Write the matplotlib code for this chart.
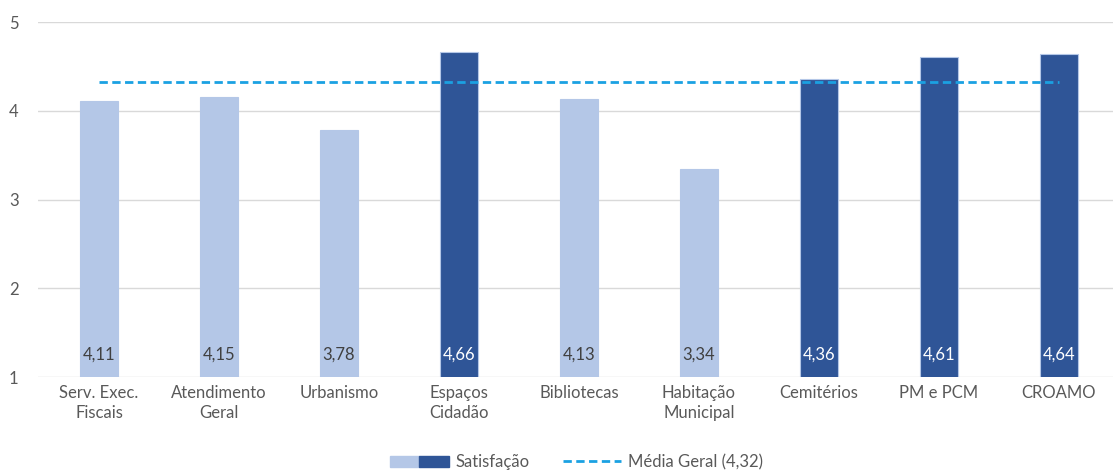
import matplotlib.pyplot as plt
from matplotlib.patches import Patch
from matplotlib.lines import Line2D
from matplotlib.legend_handler import HandlerTuple

plt.rcParams['font.family'] = ['Lato', 'DejaVu Sans']

# dados
categorias = ['Serv. Exec.\nFiscais', 'Atendimento\nGeral', 'Urbanismo', 'Espaços\nCidadão',
              'Bibliotecas', 'Habitação\nMunicipal', 'Cemitérios', 'PM e PCM', 'CROAMO']
satisfacao = [4.11, 4.15, 3.78, 4.66, 4.13, 3.34, 4.36, 4.61, 4.64]
media_geral = 4.32

claro = '#B4C7E7'
escuro = '#2F5597'
cores = [escuro if v > media_geral else claro for v in satisfacao]

fig = plt.figure(figsize=(11.13, 4.74), dpi=100)
ax = fig.add_axes([38 / 1113, 97 / 474, 1075 / 1113, 355 / 474])

x = list(range(len(categorias)))
ax.bar(x, satisfacao, width=0.32, bottom=0, color=cores, edgecolor=claro, linewidth=0.8, zorder=2)
ax.plot([x[0], x[-1]], [media_geral, media_geral], color='#1BA1E2', linestyle=(0, (3, 1.6)),
        linewidth=2, zorder=3)

for xi, v, c in zip(x, satisfacao, cores):
    ax.text(xi, 1.25, f'{v:.2f}'.replace('.', ','), ha='center', va='center', fontsize=12,
            color='white' if c == escuro else '#404040', zorder=4)

ax.set_xlim(-0.508, 8.45)
ax.set_ylim(1, 5)
ax.set_yticks([1, 2, 3, 4, 5])
ax.set_xticks(x)
ax.set_xticklabels(categorias, fontsize=12, color='#595959', linespacing=1.3)
ax.tick_params(axis='y', labelsize=12, colors='#595959', length=0, pad=14)
ax.tick_params(axis='x', length=0, pad=6)
ax.grid(axis='y', color='#D9D9D9', linewidth=1, zorder=0)
for s in ax.spines.values():
    s.set_visible(False)

handles = [(Patch(color=claro), Patch(color=escuro)),
           Line2D([], [], color='#1BA1E2', linestyle=(0, (3, 1.6)), linewidth=2)]
fig.legend(handles, ['Satisfação', 'Média Geral (4,32)'], loc='center', bbox_to_anchor=(0.518, 0.025),
           ncol=2, frameon=False, fontsize=12, labelcolor='#595959',
           handler_map={tuple: HandlerTuple(ndivide=None, pad=0)}, handlelength=3.5,
           columnspacing=2.0, handletextpad=0.4)

fig.savefig('out.png', dpi=100)
